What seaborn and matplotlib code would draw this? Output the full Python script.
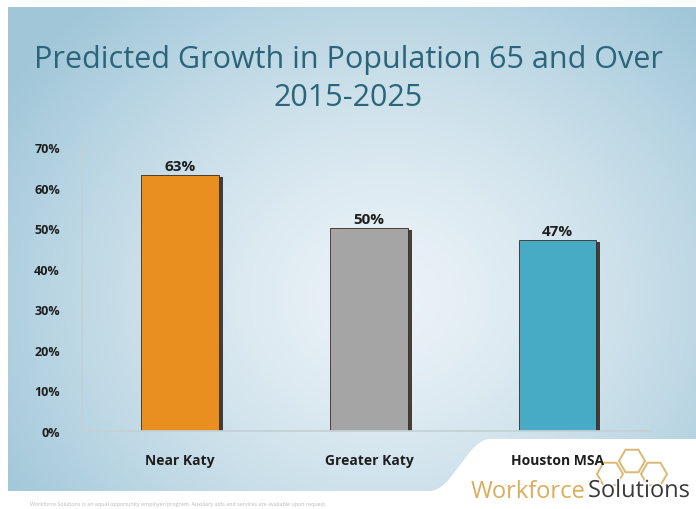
import numpy as np
import pandas as pd
import matplotlib
matplotlib.use("Agg")
import matplotlib.pyplot as plt
import matplotlib.patheffects as pe
from matplotlib.patches import Polygon, RegularPolygon
from matplotlib.ticker import PercentFormatter
import seaborn as sns

# Data
regions = ["Near Katy", "Greater Katy", "Houston MSA"]
growth_pct = [63, 50, 47]
bar_colors = ["#e88f1f", "#a5a5a5", "#48abc6"]
y_ticks = [0, 10, 20, 30, 40, 50, 60, 70]

df = pd.DataFrame({"region": regions, "growth": growth_pct})

sns.set_theme(style="white")
plt.rcParams["font.family"] = ["Open Sans", "DejaVu Sans"]

W, H = 696, 510
fig = plt.figure(figsize=(W / 100, H / 100), dpi=100)
fig.patch.set_facecolor("white")

# Slide background: soft blue gradient, lighter toward the centre
bg = fig.add_axes([0, 0, 1, 1], zorder=-2)
bg.set_xlim(0, W)
bg.set_ylim(H, 0)
bg.axis("off")
xx, yy = np.meshgrid(np.linspace(0, 1, 400), np.linspace(0, 1, 300))
dist = np.sqrt(((xx - 0.55) / 0.65) ** 2 + ((yy - 0.6) / 0.8) ** 2)
t = np.clip(dist, 0, 1) ** 1.4
light = np.array([0.92, 0.95, 0.97])
dark = np.array([0.63, 0.78, 0.85])
img = light[None, None, :] * (1 - t[..., None]) + dark[None, None, :] * t[..., None]
bg.imshow(img, extent=[8, W, 492, 8], aspect="auto", zorder=0)

# White footer with curved swoosh on the right
curve_x = np.linspace(430, 490, 30)
curve_y = 492 - 52 * (1 - np.cos(np.pi * (curve_x - 430) / 60)) / 2
foot = [(0, H), (0, 492)] + list(zip(curve_x, curve_y)) + [(W, 440), (W, H)]
bg.add_patch(Polygon(foot, closed=True, facecolor="white", edgecolor="none", zorder=1))

# Title
bg.text(W / 2, 60, "Predicted Growth in Population 65 and Over", ha="center", va="center",
        fontsize=22, color="#2b6579", zorder=2)
bg.text(W / 2, 98, "2015-2025", ha="center", va="center",
        fontsize=22, color="#2b6579", zorder=2)

# Logo: honeycomb and wordmark
hex_r = 13
for cx, cy in [(632, 462), (610, 475), (654, 475)]:
    bg.add_patch(RegularPolygon((cx, cy), numVertices=6, radius=hex_r, orientation=np.pi / 6,
                                facecolor="none", edgecolor="#dcb871", lw=1.4, zorder=1.5))
bg.text(586, 492, "Workforce", ha="right", va="center", fontsize=17, color="#d9ad5c", zorder=2)
bg.text(588, 492, "Solutions", ha="left", va="center", fontsize=17, color="#3a3a3a", zorder=2,
        path_effects=[pe.withStroke(linewidth=2, foreground="white")])

# Fine print
bg.text(30, 505, "Workforce Solutions is an equal opportunity employer/program. Auxiliary aids and services are available upon request.",
        ha="left", va="center", fontsize=3.9, color="#b8b8b8", zorder=2)

# Chart
ax = fig.add_axes([82 / W, (H - 432) / H, (652 - 82) / W, (432 - 148) / H], zorder=1)
ax.patch.set_alpha(0)
sns.barplot(data=df, x="region", y="growth", hue="region", palette=bar_colors,
            saturation=1, legend=False, width=0.41, ax=ax, edgecolor="#3a2a1a", linewidth=0.6)
for bar in ax.patches:
    bar.set_path_effects([pe.SimplePatchShadow(offset=(3, -1), shadow_rgbFace="#2a2018", alpha=0.85),
                          pe.Normal()])
for bar, val in zip(ax.patches, growth_pct):
    ax.text(bar.get_x() + bar.get_width() / 2, val + 0.6, f"{val}%", ha="center", va="bottom",
            fontsize=11, fontweight="bold", color="#1e1e1e")

ax.set_ylim(0, 70)
ax.set_xlim(-0.52, 2.5)
ax.set_yticks(y_ticks)
ax.yaxis.set_major_formatter(PercentFormatter(decimals=0))
ax.set_xlabel("")
ax.set_ylabel("")
for side in ["top", "right"]:
    ax.spines[side].set_visible(False)
ax.spines["left"].set_color("#c4d0d6")
ax.spines["bottom"].set_color("#c4d0d6")
ax.tick_params(axis="y", length=4, color="#c4d0d6", labelsize=9, labelcolor="#1e1e1e", pad=12)
ax.tick_params(axis="x", length=0, labelsize=10, labelcolor="#1e1e1e", pad=16)
for lbl in ax.get_yticklabels() + ax.get_xticklabels():
    lbl.set_fontweight("bold")

fig.savefig("out.png", dpi=100, facecolor="white")
